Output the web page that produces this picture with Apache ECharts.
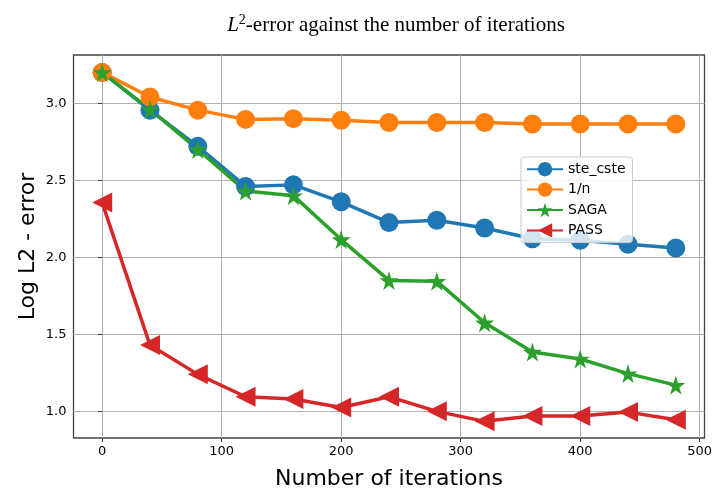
<!DOCTYPE html>
<html>
<head>
<meta charset="utf-8">
<script src="https://cdn.jsdelivr.net/npm/echarts@6/dist/echarts.min.js"></script>
<style>
  html, body { margin: 0; padding: 0; background: #fff; }
  #chart { width: 712px; height: 493px; }
</style>
</head>
<body>
<div id="chart"></div>
<script>
// iterations on the x axis
var iterations = [0, 40, 80, 120, 160, 200, 240, 280, 320, 360, 400, 440, 480];

// log L2 error per method
var steCste = [3.20, 2.955, 2.72, 2.46, 2.47, 2.36, 2.225, 2.24, 2.19, 2.12, 2.11, 2.085, 2.06];
var oneOverN = [3.20, 3.04, 2.955, 2.895, 2.90, 2.89, 2.875, 2.875, 2.875, 2.865, 2.865, 2.865, 2.865];
var saga = [3.20, 2.96, 2.70, 2.43, 2.40, 2.115, 1.85, 1.845, 1.575, 1.385, 1.34, 1.245, 1.17];
var pass = [2.355, 1.43, 1.24, 1.095, 1.08, 1.025, 1.095, 1.0, 0.935, 0.97, 0.97, 0.995, 0.945];

var xTicks = [0, 100, 200, 300, 400, 500];
var yTicks = [1.0, 1.5, 2.0, 2.5, 3.0];

var starPath = 'path://M50,0 L61,35 L98,35 L68,57 L79,91 L50,70 L21,91 L32,57 L2,35 L39,35 Z';

function pairs(ys) {
  return iterations.map(function (x, i) { return [x, ys[i]]; });
}

function lineSeries(name, ys, color, symbol, size, rotate) {
  return {
    name: name,
    type: 'line',
    data: pairs(ys),
    symbol: symbol,
    symbolSize: size,
    symbolRotate: rotate || 0,
    showSymbol: true,
    lineStyle: { color: color, width: 3.5 },
    itemStyle: { color: color, borderWidth: 0 },
    emphasis: { disabled: true },
    animation: false
  };
}

var chart = echarts.init(document.getElementById('chart'));
chart.setOption({
  backgroundColor: '#fff',
  title: {
    text: '{i|L}{s|2}{n|-error against the number of iterations}',
    left: 391,
    top: 8,
    textAlign: 'center',
    textStyle: {
      fontWeight: 'normal',
      rich: {
        i: { fontFamily: 'Liberation Serif', fontStyle: 'italic', fontWeight: 'normal', fontSize: 21, color: '#000' },
        s: { fontFamily: 'Liberation Serif', fontWeight: 'normal', fontSize: 14, color: '#000', verticalAlign: 'top', padding: [0, 0, 10, 0] },
        n: { fontFamily: 'Liberation Serif', fontWeight: 'normal', fontSize: 21, color: '#000' }
      }
    }
  },
  grid: {
    left: 73.5, right: 7.5, top: 55, bottom: 55,
    outerBoundsMode: 'none',
    containLabel: false,
    show: true, borderColor: '#444', borderWidth: 1.3, backgroundColor: '#fff'
  },
  legend: {
    orient: 'vertical',
    left: 521,
    top: 157,
    itemWidth: 36,
    itemHeight: 18,
    itemGap: 6,
    padding: [5, 7, 5, 5],
    backgroundColor: 'rgba(255,255,255,0.8)',
    borderColor: '#ccc',
    borderWidth: 1,
    borderRadius: 3,
    textStyle: { fontFamily: 'DejaVu Sans', fontSize: 14, color: '#000' },
    data: ['ste_cste', '1/n', 'SAGA', 'PASS']
  },
  xAxis: {
    type: 'value',
    min: -24,
    max: 504,
    name: 'Number of iterations',
    nameLocation: 'middle',
    nameGap: 30,
    nameMoveOverlap: false,
    nameTextStyle: { fontFamily: 'DejaVu Sans', fontSize: 22, color: '#000' },
    axisLine: { show: false },
    axisTick: { show: true, customValues: xTicks, length: 4, lineStyle: { color: '#333' } },
    axisLabel: { customValues: xTicks, fontFamily: 'DejaVu Sans', fontSize: 13, color: '#000', margin: 7 },
    splitLine: { show: true, lineStyle: { color: '#b0b0b0', width: 1 } }
  },
  yAxis: {
    type: 'value',
    min: 0.827,
    max: 3.313,
    name: 'Log L2 - error',
    nameLocation: 'middle',
    nameGap: 34,
    nameMoveOverlap: false,
    nameTextStyle: { fontFamily: 'DejaVu Sans', fontSize: 22, color: '#000' },
    axisLine: { show: false },
    axisTick: { show: true, customValues: yTicks, length: 4, lineStyle: { color: '#333' } },
    axisLabel: {
      customValues: yTicks,
      fontFamily: 'DejaVu Sans', fontSize: 13, color: '#000', margin: 7,
      formatter: function (v) { return v.toFixed(1); }
    },
    splitLine: { show: true, lineStyle: { color: '#b0b0b0', width: 1 } }
  },
  series: [
    lineSeries('ste_cste', steCste, '#1f77b4', 'circle', 19),
    lineSeries('1/n', oneOverN, '#ff7f0e', 'circle', 19),
    lineSeries('SAGA', saga, '#2ca02c', starPath, 19),
    lineSeries('PASS', pass, '#d62728', 'triangle', 20, 90)
  ]
});
</script>
</body>
</html>
